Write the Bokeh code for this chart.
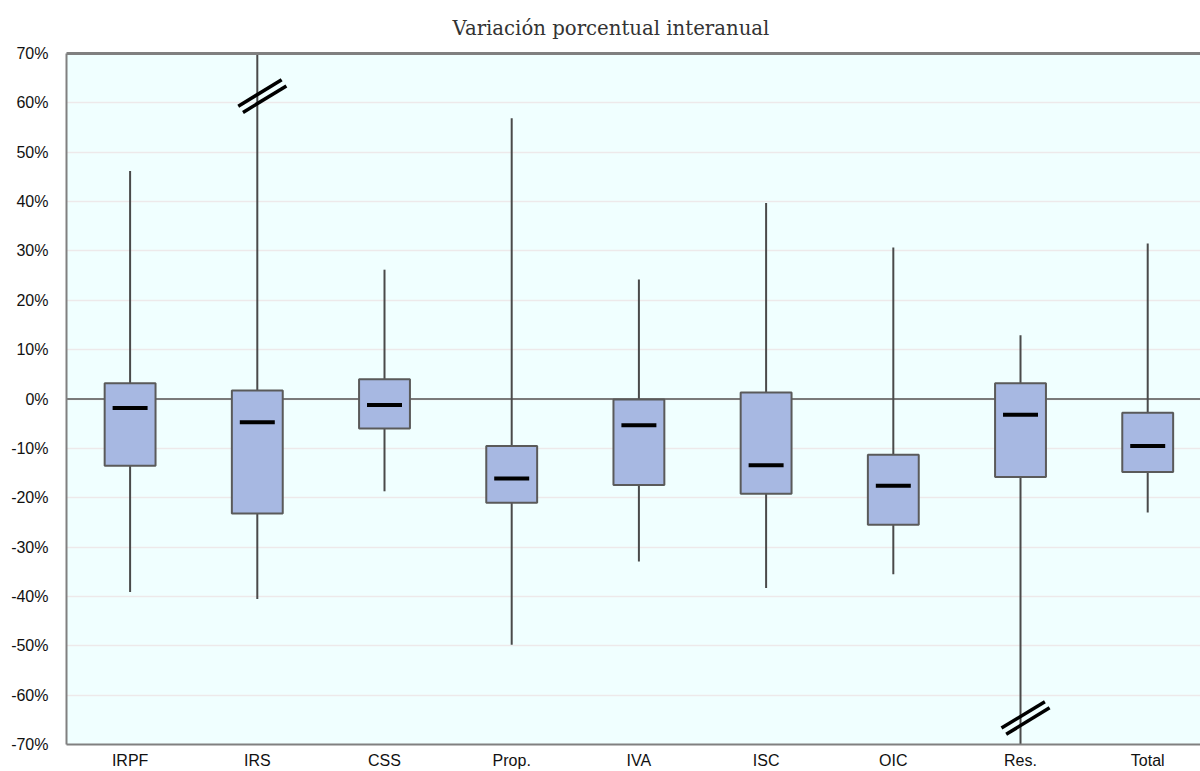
from bokeh.plotting import figure
from bokeh.models import (FixedTicker, LinearAxis, Range1d, Title, Span,
                          PrintfTickFormatter)
from bokeh.embed import file_html
from bokeh.resources import INLINE

categories = ["IRPF", "IRS", "CSS", "Prop.", "IVA", "ISC", "OIC", "Res.", "Total"]
whisker_high = [46.2, 80.0, 26.2, 56.9, 24.2, 39.7, 30.7, 12.9, 31.5]
q3 = [3.2, 1.7, 4.0, -9.5, -0.1, 1.3, -11.3, 3.2, -2.8]
median = [-1.8, -4.7, -1.2, -16.1, -5.3, -13.4, -17.6, -3.2, -9.5]
q1 = [-13.5, -23.2, -6.0, -21.0, -17.4, -19.2, -25.5, -15.8, -14.8]
whisker_low = [-39.1, -40.5, -18.7, -49.8, -32.9, -38.3, -35.5, -80.0, -23.0]
y_ticks = list(range(-70, 71, 10))
break_cats = ["IRS", "Res."]
break_vals = [62.0, -64.0]

x = list(range(len(categories)))

p = figure(width=1200, height=771, output_backend="svg", toolbar_location=None,
           title=None,
           x_range=Range1d(-0.5, 8.415), y_range=Range1d(-70, 70),
           min_border_left=66, min_border_right=0, min_border_top=53,
           min_border_bottom=0)
p.background_fill_color = "#F0FFFF"
p.border_fill_color = "white"
p.outline_line_color = None

# grid
p.xgrid.visible = False
p.ygrid.ticker = FixedTicker(ticks=y_ticks)
p.ygrid.grid_line_color = "#EDE9EA"
p.ygrid.grid_line_width = 1.5

zero = Span(location=0, dimension="width", line_color="#7A7A7A",
            line_width=2, level="underlay")
p.add_layout(zero)

# axes
yax = p.yaxis[0]
yax.ticker = FixedTicker(ticks=y_ticks)
yax.formatter = PrintfTickFormatter(format="%d%%")
yax.major_label_text_font = "Liberation Sans"
yax.major_label_text_font_size = "16px"
yax.major_label_text_color = "#111111"
yax.major_label_standoff = 18
yax.major_tick_out = 0
yax.major_tick_in = 0
yax.major_tick_line_color = None
yax.minor_tick_line_color = None
yax.axis_line_color = "#808080"
yax.axis_line_width = 2

xax = p.xaxis[0]
xax.ticker = FixedTicker(ticks=x)
xax.major_label_overrides = {i: c for i, c in enumerate(categories)}
xax.major_label_text_font = "Liberation Sans"
xax.major_label_text_font_size = "16px"
xax.major_label_text_color = "#111111"
xax.major_label_standoff = 7
xax.major_tick_out = 0
xax.major_tick_in = 0
xax.major_tick_line_color = None
xax.minor_tick_line_color = None
xax.axis_line_color = "#808080"
xax.axis_line_width = 2

top_axis = LinearAxis(ticker=FixedTicker(ticks=[]), axis_line_color="#808080",
                      axis_line_width=3, major_tick_line_color=None,
                      minor_tick_line_color=None, major_tick_out=0,
                      major_tick_in=0, major_label_standoff=0,
                      major_label_text_font_size="0px")
p.add_layout(top_axis, "above")

title = Title(text="Variación porcentual interanual", align="left",
              vertical_align="top",
              text_font="DejaVu Serif", text_font_size="19.7px",
              text_font_style="normal", text_color="#333333",
              offset=386, standoff=24)
p.add_layout(title, "above")

# whiskers
p.segment(x0=x, y0=whisker_low, x1=x, y1=whisker_high,
          line_color="#4A4A4A", line_width=2)
# boxes
p.vbar(x=x, width=0.4, top=q3, bottom=q1, fill_color="#A7B8E2",
       line_color="#5A5A5A", line_width=2)
# medians
p.rect(x=x, y=median, width=0.275, height=4, height_units="screen",
       fill_color="black", line_color=None)

# axis break marks
bx = [categories.index(c) for c in break_cats]
dx, dy = 0.1706, 2.68
for sx, sy in [(0.021, 0.0), (0.058, -1.25)]:
    p.segment(x0=[b + sx - dx for b in bx], y0=[v + sy - dy for v in break_vals],
              x1=[b + sx + dx for b in bx], y1=[v + sy + dy for v in break_vals],
              line_color="black", line_width=3.5)

open("out.html", "w").write(file_html(p, INLINE))
